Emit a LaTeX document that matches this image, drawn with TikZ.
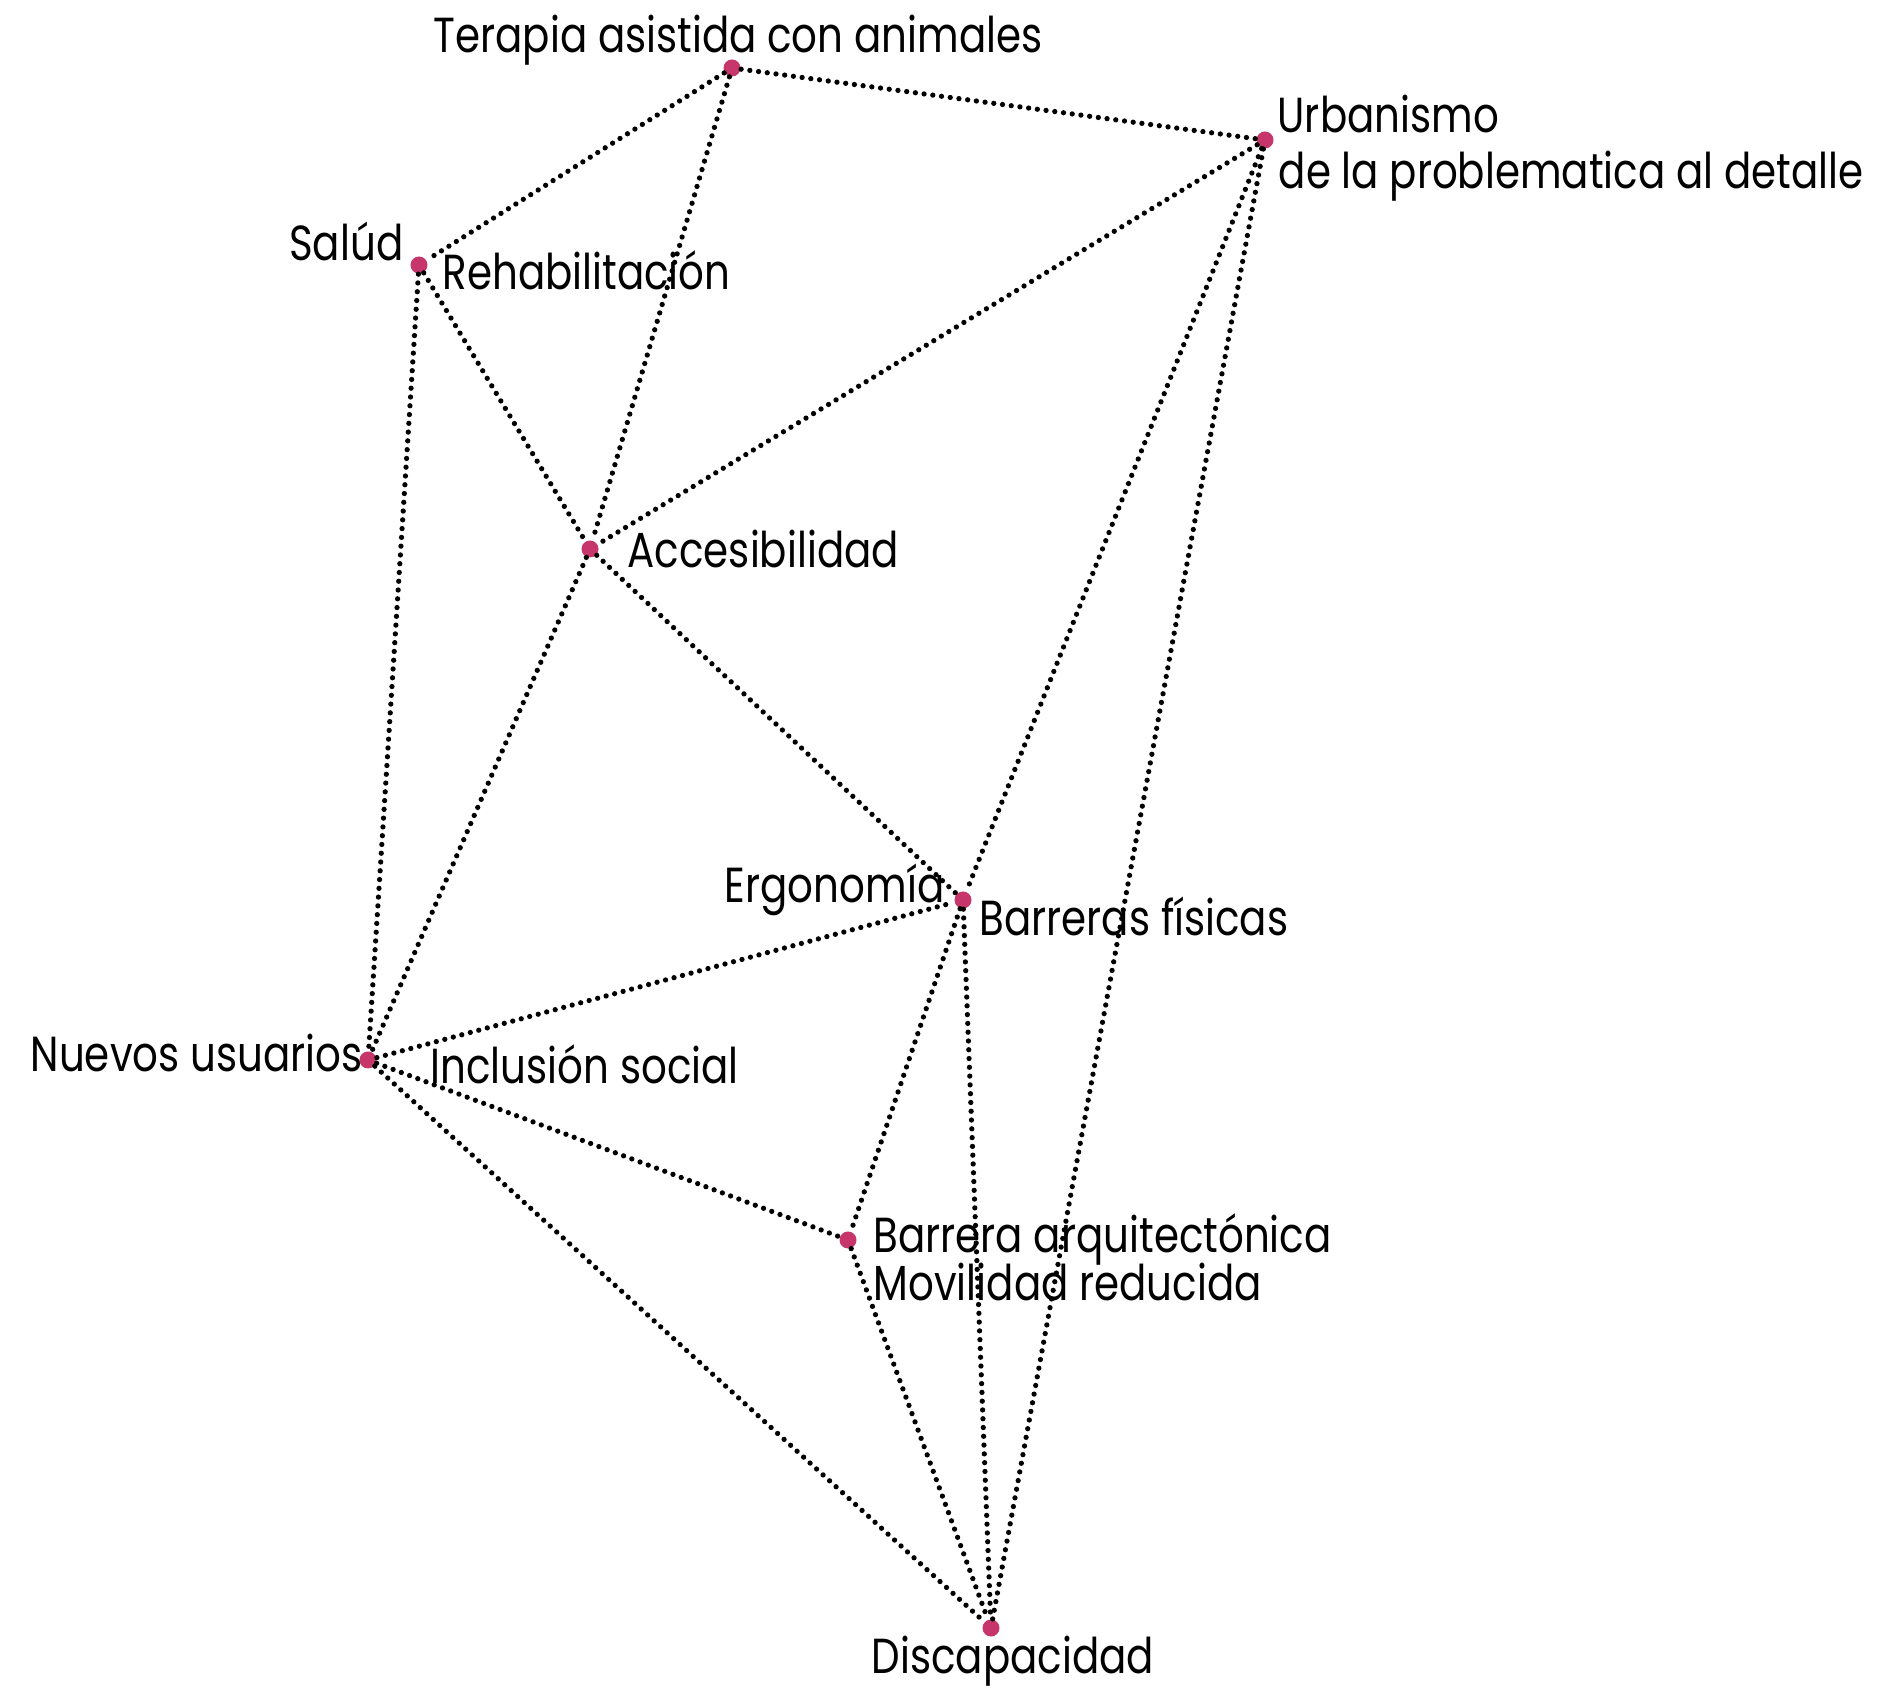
\documentclass[tikz,border=0pt]{standalone}
\usepackage{fontspec}
\setmainfont{Poppins}[FakeStretch=0.82]
\definecolor{puntorosa}{RGB}{198,54,106}

\begin{document}
\begin{tikzpicture}[x=0.01cm, y=-0.01cm,
    hub/.style={circle, fill=puntorosa, inner sep=0pt, minimum size=0.17cm},
    link/.style={line width=1.5pt, line cap=round, dash pattern=on 0pt off 2.5pt},
    lbl/.style={inner sep=0pt, font=\fontsize{14}{16}\selectfont}]

    \useasboundingbox (0,0) rectangle (1878,1686);

    % 1. Puntos
    \node[hub] (ter) at (732, 68) {};
    \node[hub] (urb) at (1265, 140) {};
    \node[hub] (sal) at (419, 265) {};
    \node[hub] (acc) at (590, 549) {};
    \node[hub] (bar) at (963, 900) {};
    \node[hub] (nue) at (368, 1060) {};
    \node[hub] (arq) at (848, 1240) {};
    \node[hub] (dis) at (991, 1628) {};

    % 2. Conexiones punteadas
    \foreach \a/\b in {ter/sal, ter/acc, ter/urb, urb/acc, urb/bar, urb/dis,
                       sal/acc, sal/nue, acc/bar, acc/nue, nue/bar, nue/arq,
                       nue/dis, bar/arq, bar/dis, arq/dis}
        \draw[link] (\a) -- (\b);

    % 3. Etiquetas
    \node[lbl, anchor=base] (terL) at (738, 53) {Terapia asistida con animales};
    \node[lbl, anchor=base west] (urbA) at (1277, 133) {Urbanismo};
    \node[lbl, anchor=base west] (urbB) at (1278, 189) {de la problematica al detalle};
    \node[lbl, anchor=base east] (salL) at (404, 261) {Salúd};
    \node[lbl, anchor=base west] (rehL) at (442, 290) {Rehabilitación};
    \node[lbl, anchor=base west] (accL) at (627, 568) {Accesibilidad};
    \node[lbl, anchor=base east] (ergL) at (945, 903) {Ergonomía};
    \node[lbl, anchor=base west] (barL) at (979, 936) {Barreras físicas};
    \node[lbl, anchor=base east] (nueL) at (363, 1072) {Nuevos usuarios};
    \node[lbl, anchor=base west] (incL) at (430, 1084) {Inclusión social};
    \node[lbl, anchor=base west] (arqA) at (873, 1253) {Barrera arquitectónica};
    \node[lbl, anchor=base west] (arqB) at (873, 1301) {Movilidad reducida};
    \node[lbl, anchor=base] (disL) at (1013, 1674) {Discapacidad};

\end{tikzpicture}
\end{document}
